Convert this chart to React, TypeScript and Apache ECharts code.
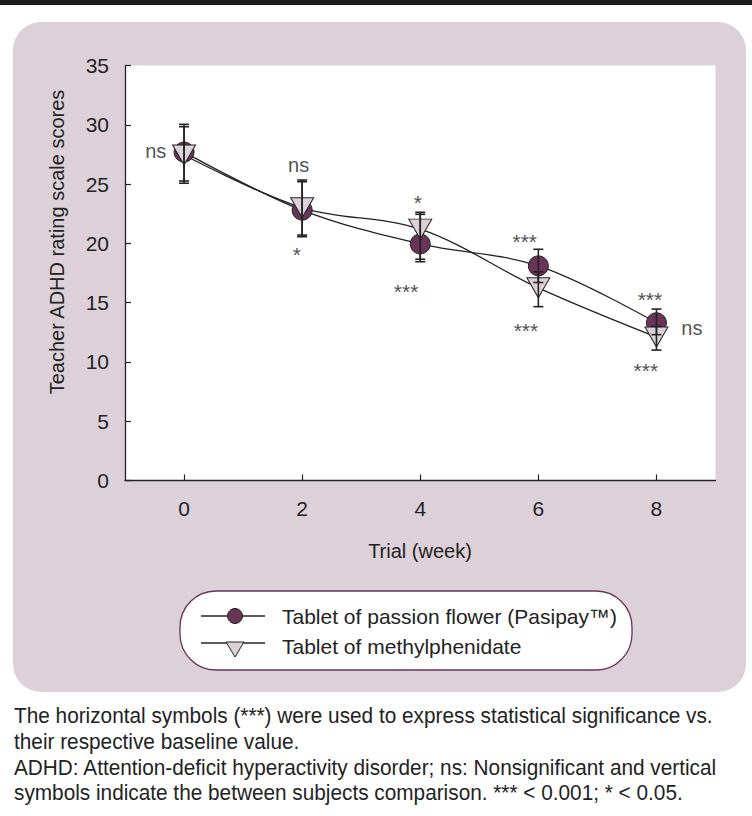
import React, { useEffect, useRef } from "react";
import * as echarts from "echarts";

const weeks = [0, 2, 4, 6, 8];
const xTicks = [0, 2, 4, 6, 8];

const passionMean = [27.7, 22.8, 19.95, 18.1, 13.3];
const passionUpper = [29.84, 25.2, 22.45, 19.5, 14.46];
const passionLower = [25.26, 20.56, 18.45, 16.7, 12.3];

const methylMean = [27.45, 23.0, 21.2, 16.25, 12.1];
const methylUpper = [30.04, 25.34, 22.62, 17.6, 13.0];
const methylLower = [25.07, 20.7, 18.66, 14.66, 11.0];

const annX = [-0.48, 1.94, 1.91, 3.96, 3.76, 5.77, 5.79, 7.89, 8.6, 7.82];
const annY = [27.58, 26.44, 19.5, 23.85, 16.4, 20.62, 13.11, 15.7, 12.69, 9.66];
const annText = ["ns", "ns", "*", "*", "***", "***", "***", "***", "ns", "***"];

const seriesNames = ["Tablet of passion flower (Pasipay\u2122)", "Tablet of methylphenidate"];
const xTitle = "Trial (week)";
const yTitle = "Teacher ADHD rating scale scores";
const captionLines = [
  "The horizontal symbols (***) were used to express statistical significance vs.",
  "their respective baseline value.",
  "ADHD: Attention-deficit hyperactivity disorder; ns: Nonsignificant and vertical",
  "symbols indicate the between subjects comparison. *** < 0.001; * < 0.05.",
];

const PLUM = "#6a3457";
const PINK = "#dcd1d8";
const INK = "#232323";
const FONT = "'Liberation Sans', Arial, Helvetica, sans-serif";

export default function App() {
  const ref = useRef<HTMLDivElement>(null);
  useEffect(() => {
    if (!ref.current) return;
    const chart = echarts.init(ref.current, null, { renderer: "svg" });

    const errRender = (params: any, api: any) => {
      const x = api.value(0);
      const lo = api.value(1);
      const hi = api.value(2);
      const t = api.coord([x, hi]);
      const b = api.coord([x, lo]);
      const hw = 5;
      const st = { stroke: INK, lineWidth: 1.6 };
      return {
        type: "group",
        children: [
          { type: "line", shape: { x1: t[0], y1: t[1], x2: b[0], y2: b[1] }, style: st },
          { type: "line", shape: { x1: t[0] - hw, y1: t[1], x2: t[0] + hw, y2: t[1] }, style: st },
          { type: "line", shape: { x1: b[0] - hw, y1: b[1], x2: b[0] + hw, y2: b[1] }, style: st },
        ],
      };
    };

    const annData = annX.map((x, i) => ({
      value: [x, annY[i], annText[i]],
      label:
        annText[i] === "ns"
          ? { offset: [0, -2], fontSize: 20 }
          : { offset: [0, 5], fontSize: 21 },
    }));

    const legendX = 180, legendY = 591, legendW = 452, legendH = 79;

    const option: any = {
      animation: false,
      textStyle: { fontFamily: FONT },
      grid: {
        left: 125,
        top: 65.5,
        width: 590.5,
        height: 415,
        show: true,
        backgroundColor: "#ffffff",
        borderWidth: 0,
      },
      xAxis: {
        type: "value",
        min: -1,
        max: 9,
        splitLine: { show: false },
        axisLine: { show: true, onZero: false, lineStyle: { color: INK, width: 1.3 } },
        axisTick: { show: true, inside: true, length: 6, customValues: xTicks, lineStyle: { color: INK, width: 1.2 } },
        axisLabel: { customValues: xTicks, color: INK, fontSize: 21, margin: 17, fontFamily: FONT },
      },
      yAxis: {
        type: "value",
        min: 0,
        max: 35,
        interval: 5,
        splitLine: { show: false },
        axisLine: { show: true, onZero: false, lineStyle: { color: INK, width: 1.3 } },
        axisTick: { show: true, inside: true, length: 6, lineStyle: { color: INK, width: 1.2 } },
        axisLabel: { color: INK, fontSize: 21, margin: 16, fontFamily: FONT },
      },
      series: [
        {
          type: "line",
          name: seriesNames[0] + " line",
          data: weeks.map((w, i) => [w, passionMean[i]]),
          smooth: 0.35,
          showSymbol: false,
          lineStyle: { color: INK, width: 1.3 },
          z: 2,
        },
        {
          type: "line",
          name: seriesNames[1] + " line",
          data: weeks.map((w, i) => [w, methylMean[i]]),
          smooth: 0.35,
          showSymbol: false,
          lineStyle: { color: INK, width: 1.3 },
          z: 2,
        },
        {
          type: "scatter",
          name: seriesNames[0],
          data: weeks.map((w, i) => [w, passionMean[i]]),
          symbol: "circle",
          symbolSize: 20,
          itemStyle: { color: PLUM, borderColor: INK, borderWidth: 1, opacity: 1 },
          z: 3,
        },
        {
          type: "scatter",
          name: seriesNames[1],
          data: weeks.map((w, i) => [w, methylMean[i]]),
          symbol: "triangle",
          symbolRotate: 180,
          symbolSize: [23, 20],
          itemStyle: { color: PINK, borderColor: INK, borderWidth: 1, opacity: 1 },
          z: 4,
        },
        {
          type: "custom",
          name: "err1",
          data: weeks.map((w, i) => [w, passionLower[i], passionUpper[i]]),
          encode: { x: 0, y: [1, 2] },
          renderItem: errRender,
          z: 5,
        },
        {
          type: "custom",
          name: "err2",
          data: weeks.map((w, i) => [w, methylLower[i], methylUpper[i]]),
          encode: { x: 0, y: [1, 2] },
          renderItem: errRender,
          z: 5,
        },
        {
          type: "scatter",
          name: "annotations",
          data: annData,
          symbolSize: 0,
          silent: true,
          label: {
            show: true,
            position: "inside",
            color: INK,
            fontSize: 20,
            fontFamily: FONT,
            formatter: (p: any) => p.value[2],
          },
          z: 6,
        },
      ],
      graphic: [
        { type: "rect", z: -100, shape: { x: 0, y: 0, width: 752, height: 5 }, style: { fill: "#1c1c1c" } },
        { type: "rect", z: -100, shape: { x: 13, y: 22, width: 733, height: 670, r: 28 }, style: { fill: PINK } },
        {
          type: "text",
          x: 420,
          y: 551,
          style: { text: xTitle, fill: INK, font: `20px ${FONT}`, textAlign: "center", textVerticalAlign: "middle" },
        },
        {
          type: "text",
          x: 57,
          y: 242,
          rotation: Math.PI / 2,
          style: { text: yTitle, fill: INK, font: `20px ${FONT}`, textAlign: "center", textVerticalAlign: "middle" },
        },
        {
          type: "rect",
          shape: { x: legendX, y: legendY, width: legendW, height: legendH, r: 36 },
          style: { fill: "#ffffff", stroke: PLUM, lineWidth: 1.3 },
        },
        { type: "line", shape: { x1: 201, y1: 616, x2: 265, y2: 616 }, style: { stroke: INK, lineWidth: 1.3 } },
        { type: "circle", shape: { cx: 235, cy: 616, r: 7.5 }, style: { fill: PLUM, stroke: INK, lineWidth: 1 } },
        { type: "line", shape: { x1: 201, y1: 643, x2: 265, y2: 643 }, style: { stroke: INK, lineWidth: 1.3 } },
        {
          type: "polygon",
          shape: { points: [[226, 642], [244, 642], [235, 657]] },
          style: { fill: PINK, stroke: INK, lineWidth: 1 },
        },
        {
          type: "text",
          x: 282,
          y: 616,
          style: { text: seriesNames[0], fill: INK, font: `21px ${FONT}`, textAlign: "left", textVerticalAlign: "middle" },
        },
        {
          type: "text",
          x: 282,
          y: 646,
          style: { text: seriesNames[1], fill: INK, font: `21px ${FONT}`, textAlign: "left", textVerticalAlign: "middle" },
        },
        ...captionLines.map((t, i) => ({
          type: "text",
          x: 14,
          y: 716 + i * 25.7,
          scaleX: 0.945,
          style: { text: t, fill: INK, font: `22px ${FONT}`, textAlign: "left", textVerticalAlign: "middle" },
        })),
      ],
    };

    chart.setOption(option);
    return () => chart.dispose();
  }, []);

  return (
    <div
      ref={ref}
      style={{ position: "absolute", left: 0, top: 0, width: 752, height: 816, background: "#ffffff" }}
    />
  );
}
